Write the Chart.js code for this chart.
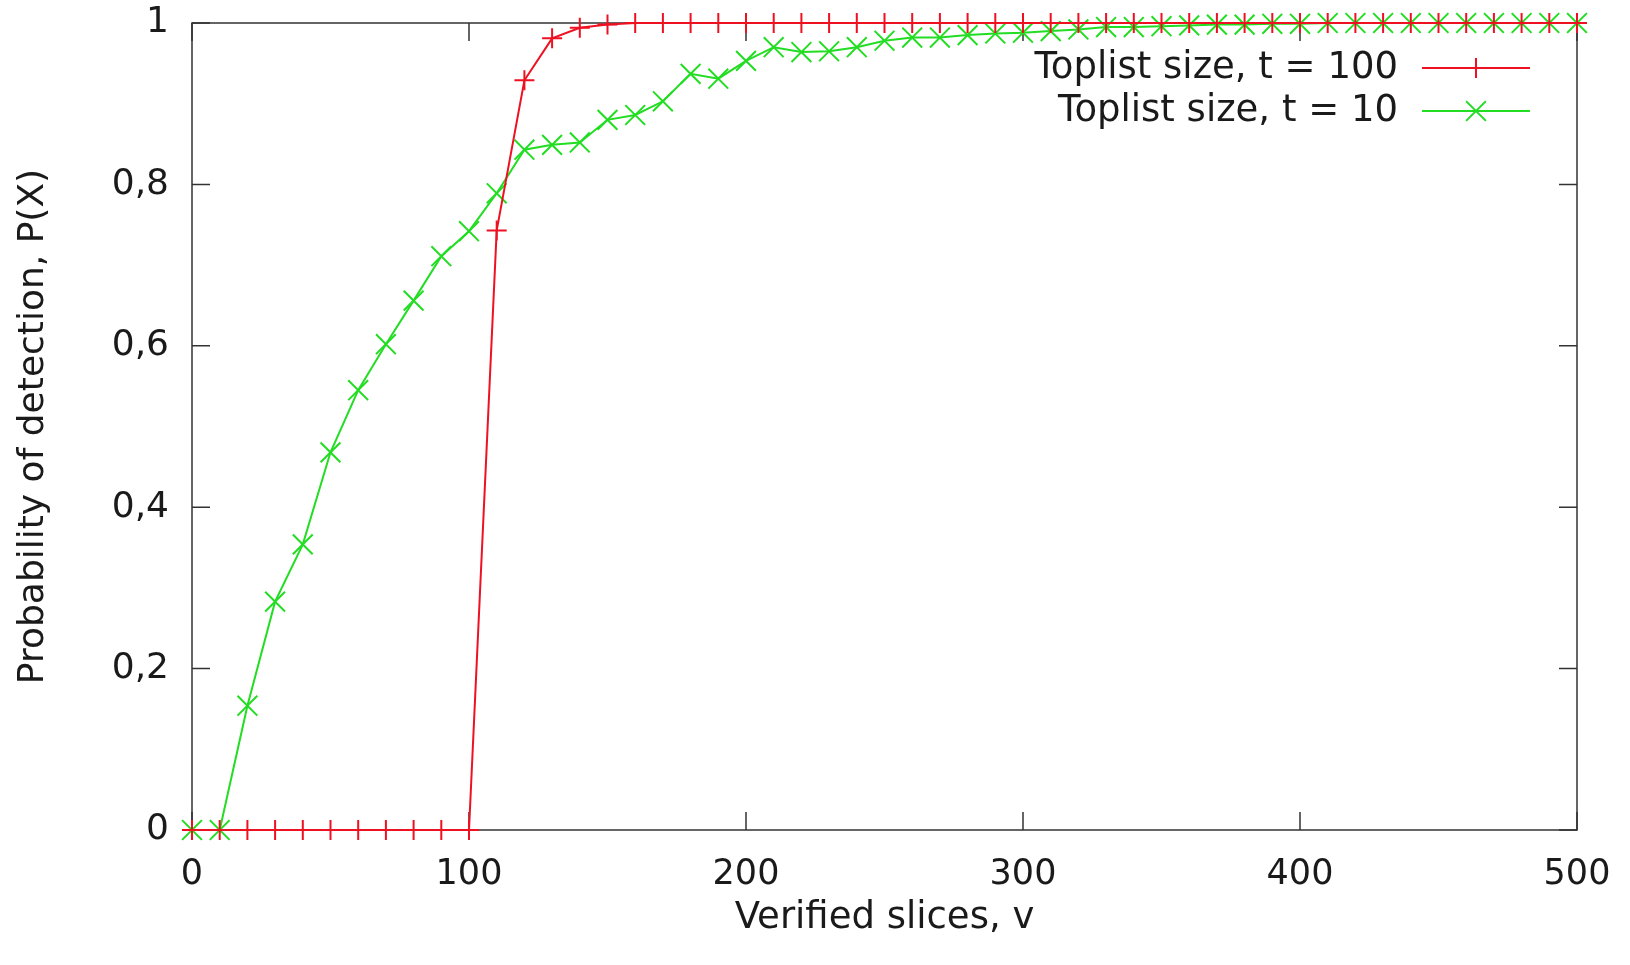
<!DOCTYPE html>
<html>
<head>
<meta charset="utf-8">
<title>Probability of detection</title>
<script src="https://cdn.jsdelivr.net/npm/chart.js@4/dist/chart.umd.min.js"></script>
<style>
    html, body { margin: 0; padding: 0; background: #ffffff; }
    #chart { display: block; }
</style>
</head>
<body>
<canvas id="chart" width="1630" height="965"></canvas>
<script>
// Data
const slices = [0, 10, 20, 30, 40, 50, 60, 70, 80, 90,
    100, 110, 120, 130, 140, 150, 160, 170, 180, 190,
    200, 210, 220, 230, 240, 250, 260, 270, 280, 290,
    300, 310, 320, 330, 340, 350, 360, 370, 380, 390,
    400, 410, 420, 430, 440, 450, 460, 470, 480, 490,
    500];

const toplist100 = [0, 0, 0, 0, 0, 0, 0, 0, 0, 0,
    0, 0.743, 0.929, 0.981, 0.994, 0.998, 1, 1, 1, 1,
    1, 1, 1, 1, 1, 1, 1, 1, 1, 1,
    1, 1, 1, 1, 1, 1, 1, 1, 1, 1,
    1, 1, 1, 1, 1, 1, 1, 1, 1, 1,
    1];

const toplist10 = [0, 0, 0.154, 0.283, 0.354, 0.468, 0.545, 0.602, 0.656, 0.711,
    0.742, 0.789, 0.843, 0.849, 0.852, 0.880, 0.886, 0.903, 0.937, 0.931,
    0.953, 0.970, 0.964, 0.965, 0.970, 0.978, 0.982, 0.982, 0.985, 0.987,
    0.988, 0.990, 0.992, 0.995, 0.995, 0.996, 0.997, 0.998, 0.998, 0.999,
    0.999, 1, 1, 1, 1, 1, 1, 1, 1, 1,
    1];

const xTicks = [0, 100, 200, 300, 400, 500];
const yTicks = [0, 0.2, 0.4, 0.6, 0.8, 1];
const yTickLabels = ['0', '0,2', '0,4', '0,6', '0,8', '1'];

const seriesLabels = ['Toplist size, t = 100', 'Toplist size, t = 10'];

const FONT = '"DejaVu Sans", Verdana, sans-serif';
const TEXT = '#1a1a1a';
const RED = '#ee1122';
const GREEN = '#22dd22';

function toPoints(values) {
    return slices.map((v, i) => ({ x: v, y: values[i] }));
}

// frame + inward tics on all four sides (gnuplot style)
const framePlugin = {
    id: 'frame',
    beforeDatasetsDraw(chart) {
        const { ctx, chartArea: a, scales } = chart;
        const len = 18;
        ctx.save();
        ctx.strokeStyle = '#333333';
        ctx.lineWidth = 1.5;
        ctx.strokeRect(a.left, a.top, a.right - a.left, a.bottom - a.top);
        ctx.beginPath();
        xTicks.forEach(v => {
            const px = scales.x.getPixelForValue(v);
            ctx.moveTo(px, a.bottom); ctx.lineTo(px, a.bottom - len);
            ctx.moveTo(px, a.top); ctx.lineTo(px, a.top + len);
        });
        yTicks.forEach(v => {
            const py = scales.y.getPixelForValue(v);
            ctx.moveTo(a.left, py); ctx.lineTo(a.left + len, py);
            ctx.moveTo(a.right, py); ctx.lineTo(a.right - len, py);
        });
        ctx.stroke();
        ctx.restore();
    }
};

// key in the top right corner: text right-aligned, sample to its right
const keyPlugin = {
    id: 'key',
    afterDatasetsDraw(chart) {
        const { ctx, chartArea: a } = chart;
        const textRight = a.right - 179;
        const lineLeft = a.right - 155;
        const lineRight = a.right - 47;
        const rowY = [a.top + 45, a.top + 88];
        ctx.save();
        ctx.font = '37px ' + FONT;
        ctx.textAlign = 'right';
        ctx.textBaseline = 'middle';
        chart.data.datasets.forEach((ds, i) => {
            const y = rowY[i];
            ctx.fillStyle = TEXT;
            ctx.fillText(ds.label, textRight, y);
            ctx.strokeStyle = ds.borderColor;
            ctx.lineWidth = ds.borderWidth;
            ctx.beginPath();
            ctx.moveTo(lineLeft, y);
            ctx.lineTo(lineRight, y);
            ctx.stroke();
            Chart.helpers.drawPoint(ctx, {
                pointStyle: ds.pointStyle,
                radius: ds.pointRadius,
                borderWidth: ds.pointBorderWidth
            }, (lineLeft + lineRight) / 2, y);
        });
        ctx.restore();
    }
};

const chart = new Chart(document.getElementById('chart').getContext('2d'), {
    type: 'line',
    data: {
        datasets: [
            {
                label: seriesLabels[0],
                data: toPoints(toplist100),
                borderColor: RED,
                backgroundColor: RED,
                borderWidth: 2,
                pointStyle: 'cross',
                pointRadius: 10,
                pointBorderWidth: 2,
                pointBorderColor: RED,
                tension: 0,
                clip: false
            },
            {
                label: seriesLabels[1],
                data: toPoints(toplist10),
                borderColor: GREEN,
                backgroundColor: GREEN,
                borderWidth: 2,
                pointStyle: 'crossRot',
                pointRadius: 14,
                pointBorderWidth: 2,
                pointBorderColor: GREEN,
                tension: 0,
                clip: false
            }
        ]
    },
    options: {
        responsive: false,
        animation: false,
        events: [],
        layout: { padding: { left: 12, top: 23, right: 53, bottom: 24 } },
        plugins: {
            legend: { display: false },
            tooltip: { enabled: false }
        },
        scales: {
            x: {
                type: 'linear',
                min: 0,
                max: 500,
                afterFit(scale) {
                    scale.height = 111;
                    scale.paddingLeft = 0;
                    scale.paddingRight = 0;
                },
                afterBuildTicks(scale) { scale.ticks = xTicks.map(v => ({ value: v })); },
                grid: { display: false },
                border: { display: false },
                ticks: {
                    padding: 16,
                    maxRotation: 0,
                    color: TEXT,
                    font: { family: FONT, size: 35 }
                },
                title: {
                    display: true,
                    text: 'Verified slices, v',
                    color: TEXT,
                    padding: { top: 0, bottom: 0 },
                    font: { family: FONT, size: 37 }
                }
            },
            y: {
                type: 'linear',
                min: 0,
                max: 1,
                afterFit(scale) {
                    scale.width = 180;
                    scale.paddingTop = 0;
                    scale.paddingBottom = 0;
                },
                afterBuildTicks(scale) { scale.ticks = yTicks.map(v => ({ value: v })); },
                grid: { display: false },
                border: { display: false },
                ticks: {
                    padding: 15,
                    color: TEXT,
                    font: { family: FONT, size: 36 },
                    callback: (value) => {
                        const i = yTicks.findIndex(t => Math.abs(t - value) < 1e-9);
                        return i >= 0 ? yTickLabels[i] : '';
                    }
                },
                title: {
                    display: true,
                    text: 'Probability of detection, P(X)',
                    color: TEXT,
                    padding: { top: 0, bottom: 0 },
                    font: { family: FONT, size: 36 }
                }
            }
        }
    },
    plugins: [framePlugin, keyPlugin]
});
</script>
</body>
</html>
